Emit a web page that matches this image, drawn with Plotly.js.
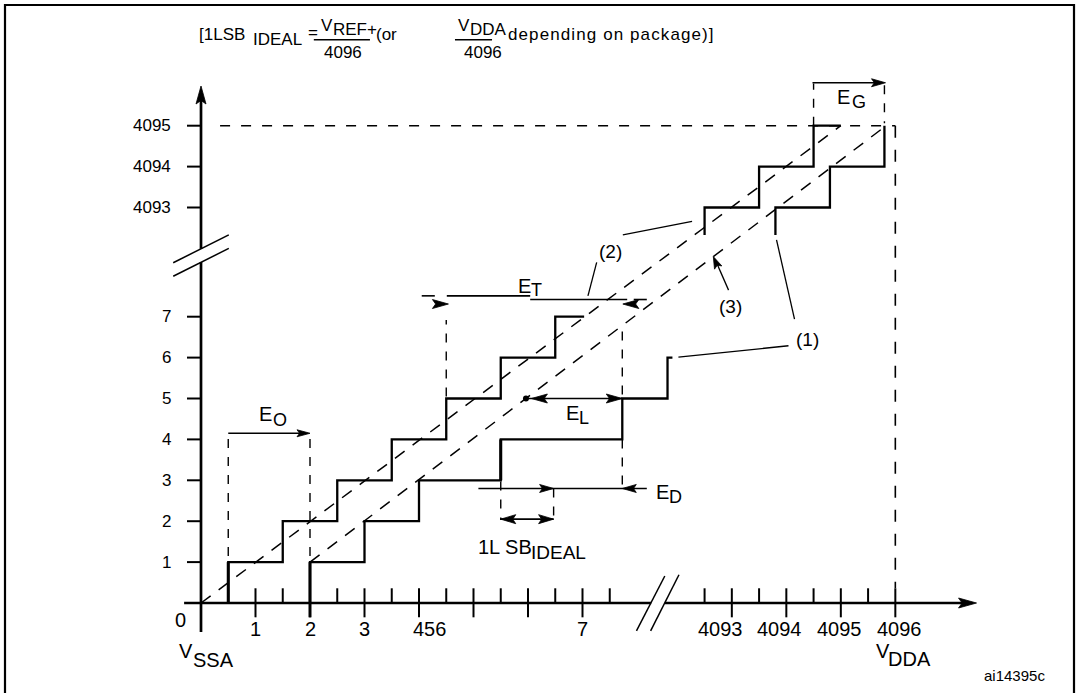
<!DOCTYPE html>
<html><head><meta charset="utf-8">
<script src="https://cdn.plot.ly/plotly-3.0.1.min.js"></script>
<style>html,body{margin:0;padding:0;background:#fff;overflow:hidden}#chart{width:1080px;height:693px}</style>
</head><body><div id="chart"></div>
<script>
// ---------------- data (ADC codes / input in LSB) ----------------
const idealLowEdges   = [0.5, 1.5, 2.5, 3.5, 4.5, 5.5, 6.5];   // transitions to codes 1..7
const idealLowEnd     = 7.03;
const idealHighStart  = 4092.33;
const idealHighEdges  = [4092.5, 4093.5, 4094.5];               // transitions to 4093..4095
const idealHighEnd    = 4095.0;
const actualLowEdges  = [2, 3, 4, 5.5, 7.73, 8.56];             // transitions to codes 1..6
const actualLowEnd    = 8.65;
const actualHighEdges = [4093.8, 4094.8, 4095.8];               // transitions to 4093..4095
const idealLineX = [0, 4095],  idealLineY = [0, 4095];           // (2)
const endPointLineX = [2, 4095.83], endPointLineY = [1, 4095];   // (3)
const fullScaleCode = 4095, fullScaleInput = 4096;
const yTickCodes  = [1, 2, 3, 4, 5, 6, 7, 4093, 4094, 4095];
const yTickLabels = ['1', '2', '3', '4', '5', '6', '7', '4093', '4094', '4095'];
const xMajorTicks = [1, 2, 3, 4, 5, 6, 7, 4093, 4094, 4095, 4096];
const xMinorTicks = [1.5, 2.5, 3.5, 4.5, 5.5, 6.5, 7.5, 4092.5, 4093.5, 4094.5, 4095.5];
const xTickLabels = ['1', '2', '3', '456', '7', '4093', '4094', '4095', '4096'];
const xTickLabelAt = [1, 2, 3, 4.2, 7, 4092.79, 4093.87, 4094.98, 4096.07];

// ---------------- scale / axis break ----------------
const SX = 54.5, SY = 40.9;                 // px per LSB, px per code
const W = 1080, H = 693, OX = 201, OY = 603;
const X_OFF = 4083.26, Y_OFF = 4083.33, BREAK = 100;
const mapX = c => c > BREAK ? c - X_OFF : c;
const mapY = c => c > BREAK ? c - Y_OFF : c;

const K = '#000';
const FONT = 'Liberation Sans, Arial, Helvetica, sans-serif';
const traces = [];
function line(xs, ys, w, dash) {
  traces.push({type: 'scatter', mode: 'lines', x: xs, y: ys,
    line: {color: K, width: w, dash: dash || 'solid'}, hoverinfo: 'skip', showlegend: false});
}
function head(tu, tv, ang, len, hw) {
  const a = ang * Math.PI / 180, dx = Math.cos(a), dy = Math.sin(a);
  const bx = -dx * len, by = -dy * len, px = -dy * hw, py = dx * hw;
  const pts = [[0, 0], [bx + px, by + py], [bx * 0.8, by * 0.8], [bx - px, by - py], [0, 0]];
  traces.push({type: 'scatter', mode: 'lines', x: pts.map(p => tu + p[0] / SX), y: pts.map(p => tv + p[1] / SY),
    fill: 'toself', fillcolor: K, line: {color: K, width: 0.8}, hoverinfo: 'skip', showlegend: false});
}
function stairs(edges, startLevel, firstLevel, end) {
  const xs = [], ys = [];
  let lvl = startLevel;
  edges.forEach((e, i) => { xs.push(e, e); ys.push(lvl, firstLevel + i); lvl = firstLevel + i; });
  if (end !== undefined) { xs.push(end); ys.push(lvl); }
  return [xs.map(mapX), ys.map(mapY)];
}

// ---------------- axes ----------------
line([-0.31, 8.26], [0, 0], 2.5);
line([8.51, 14.0], [0, 0], 2.5);
head(14.23, 0, 0, 18, 5);
line([0, 0], [-0.71, 8.34], 2.7);
line([0, 0], [8.66, 12.3], 2.7);
head(0, 12.64, 90, 18, 5);
// break marks
line([-0.51, 0.51], [8.32, 9.0], 1.5);
line([-0.51, 0.51], [7.99, 8.67], 1.5);
line([7.99, 8.51], [-0.68, 0.66], 1.5);
line([8.25, 8.77], [-0.68, 0.69], 1.5);
// ticks
(function () {
  const yx = [], yy = [];
  yTickCodes.forEach(c => { yx.push(-0.257, 0, null); yy.push(mapY(c), mapY(c), null); });
  line(yx, yy, 2);
  const mx = [], my = [];
  xMajorTicks.forEach(c => { mx.push(mapX(c), mapX(c), null); my.push(0.36, -0.35, null); });
  line(mx, my, 2);
  const nx = [], ny = [];
  xMinorTicks.forEach(c => { nx.push(mapX(c), mapX(c), null); ny.push(0, 0.36, null); });
  line(nx, ny, 2);
})();

// ---------------- transfer curves ----------------
let s = stairs(idealLowEdges, 0, 1, idealLowEnd); line(s[0], s[1], 2.3);
s = stairs(idealHighEdges, idealHighStart, 4093, idealHighEnd); line(s[0], s[1], 2.3);
s = stairs(actualLowEdges, 0, 1, actualLowEnd); line(s[0], s[1], 2.3);
s = stairs(actualHighEdges, idealHighStart, 4093); line(s[0], s[1], 2.3);
// thicker first risers
line([mapX(idealLowEdges[0]), mapX(idealLowEdges[0])], [0, 1], 3);
line([mapX(actualLowEdges[0]), mapX(actualLowEdges[0])], [-0.35, 1], 3);
line([mapX(actualLowEdges[3]), mapX(actualLowEdges[3])], [3, 4], 3);

// straight lines (2) ideal, (3) end-point correlation
line(idealLineX.map(mapX), idealLineY.map(mapY), 1.5, '12px,10px');
line(endPointLineX.map(mapX), endPointLineY.map(mapY), 1.5, '12px,10px');

// full-scale dashed guides
line([0.35, mapX(fullScaleInput)], [mapY(fullScaleCode), mapY(fullScaleCode)], 1.6, '10px,11px');
line([mapX(fullScaleInput), mapX(fullScaleInput)], [mapY(fullScaleCode), 0.36], 1.6, '12px,12px');

// ---------------- error annotations ----------------
const VD = '9px,9px';
// E_O
line([idealLowEdges[0], idealLowEdges[0]], [1.15, 4.15], 1.4, VD);
line([actualLowEdges[0], actualLowEdges[0]], [1.15, 4.15], 1.4, VD);
line([idealLowEdges[0], actualLowEdges[0] - 0.1], [4.15, 4.15], 1.6);
head(actualLowEdges[0], 4.15, 0, 13, 3.5);
// E_T
line([idealLowEdges[4], idealLowEdges[4]], [5.05, 6.92], 1.4, VD);
line([actualLowEdges[4], actualLowEdges[4]], [5.1, 6.84], 1.4, VD);
line([4.05, 4.29], [7.51, 7.51], 1.6);
line([4.51, 6.04], [7.51, 7.51], 1.6);
line([6.04, 7.82], [7.42, 7.42], 1.6);
line([7.94, 8.18], [7.42, 7.42], 1.6);
head(4.54, 7.31, 0, 16, 4.5);
head(7.74, 7.31, 180, 16, 4.5);
// E_L
const epSlope = (mapY(endPointLineY[1]) - endPointLineY[0]) / (mapX(endPointLineX[1]) - endPointLineX[0]);
const dotX = endPointLineX[0] + (5 - endPointLineY[0]) / epSlope;
traces.push({type: 'scatter', mode: 'markers', x: [dotX], y: [5], marker: {color: K, size: 6},
  hoverinfo: 'skip', showlegend: false});
line([dotX, actualLowEdges[4]], [5, 5], 1.6);
head(dotX + 0.1, 5, 180, 16, 4.5);
head(actualLowEdges[4], 5, 0, 16, 4.5);
// E_D
line([actualLowEdges[4], actualLowEdges[4]], [4.0, 2.8], 1.4, VD);
line([5.09, 8.18], [2.8, 2.8], 1.6);
head(6.47, 2.8, 0, 14, 4);
head(actualLowEdges[4], 2.8, 180, 14, 4);
// 1 LSB ideal
line([actualLowEdges[3], actualLowEdges[3]], [2.97, 2.03], 1.4, VD);
line([6.47, 6.47], [2.8, 2.03], 1.4, VD);
line([actualLowEdges[3], 6.47], [2.05, 2.05], 1.6);
head(actualLowEdges[3], 2.05, 180, 15, 4.5);
head(6.47, 2.05, 0, 15, 4.5);
// E_G
line([mapX(idealHighEdges[2]), mapX(idealHighEdges[2])], [mapY(fullScaleCode), 12.7], 1.4, VD);
line([mapX(actualHighEdges[2]), mapX(actualHighEdges[2])], [12.66, 11.73], 1.4, VD);
line([mapX(idealHighEdges[2]) - 0.02, mapX(actualHighEdges[2]) - 0.1], [12.72, 12.72], 1.6);
head(mapX(actualHighEdges[2]) + 0.02, 12.72, 0, 14, 4);
// leaders
line([7.10, 7.26], [7.51, 8.33], 1.3);
line([7.74, 9.01], [9.00, 9.33], 1.3);
line([10.89, 10.56], [6.94, 8.88], 1.3);
line([10.78, 8.76], [6.29, 6.01], 1.3);
line([9.68, 9.45], [7.65, 8.35], 1.3);
head(9.40, 8.47, 114, 12, 4);
// formula fraction bars
line([2.07, 3.10], [13.77, 13.77], 1.5);
line([4.66, 5.34], [13.77, 13.77], 1.5);

// ---------------- text ----------------
const ann = [];
function t(text, x, y, size, xa) {
  ann.push({text: text, x: x, y: y, xref: 'x', yref: 'y', xanchor: xa || 'left', yanchor: 'middle',
    showarrow: false, font: {family: FONT, size: size, color: K}, borderpad: 0});
}
const F = 17;
yTickCodes.forEach((c, i) => t(yTickLabels[i], -0.54, mapY(c), 17, 'right'));
xTickLabels.forEach((l, i) => t(l, mapX(xTickLabelAt[i]), -0.63, 20, 'center'));
t('0', -0.385, -0.416, 20, 'center');
t('[1LSB', -0.06, 13.91, F); t('IDEAL', 0.94, 13.78, F); t('=', 1.94, 13.94, F);
t('V', 2.18, 14.12, F); t('REF+', 2.40, 14.03, F); t('4096', 2.24, 13.47, F);
t('(or', 3.20, 13.91, F);
t('V', 4.69, 14.12, F); t('DDA', 4.91, 14.03, F); t('4096', 4.81, 13.47, F);
t('<span style="letter-spacing:1.1px">depending on package)]</span>', 5.61, 13.91, F);
t('E', 1.05, 4.62, 20); t('O', 1.30, 4.47, 18);
t('E', 5.79, 7.75, 20); t('T', 6.04, 7.65, 18);
t('E', 6.68, 4.65, 20); t('L', 6.92, 4.52, 18);
t('E', 8.33, 2.71, 20); t('D', 8.57, 2.59, 18);
t('E', 11.66, 12.36, 20); t('G', 11.92, 12.24, 18);
t('1L SB', 5.06, 1.36, 20); t('IDEAL', 6.04, 1.23, 19);
t('V', -0.42, -1.17, 20); t('SSA', -0.17, -1.39, 20);
t('V', 12.37, -1.17, 20); t('DDA', 12.59, -1.37, 20);
t('ai14395c', 14.35, -1.78, 15);
t('(1)', 11.13, 6.45, 19, 'center');
t('(2)', 7.51, 8.59, 19, 'center');
t('(3)', 9.72, 7.24, 19, 'center');

const layout = {
  width: W, height: H, margin: {l: 0, r: 0, t: 0, b: 0, pad: 0},
  paper_bgcolor: '#fff', plot_bgcolor: '#fff', showlegend: false,
  xaxis: {range: [-OX / SX, (W - OX) / SX], visible: false, fixedrange: true},
  yaxis: {range: [-(H - OY) / SY, OY / SY], visible: false, fixedrange: true},
  annotations: ann,
  shapes: [{type: 'rect', xref: 'paper', yref: 'paper', x0: 5 / W, x1: 1074 / W, y0: -0.02, y1: 1 - 5 / H,
    line: {color: K, width: 2.2}, fillcolor: 'rgba(0,0,0,0)'}]
};
Plotly.newPlot('chart', traces, layout, {staticPlot: true, displayModeBar: false});
</script></body></html>
